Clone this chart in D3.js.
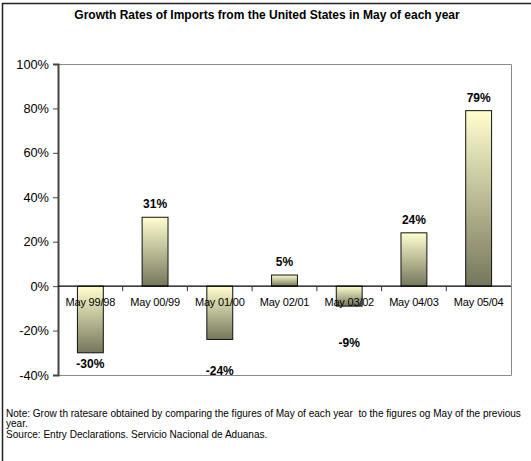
<!DOCTYPE html>
<html><head><meta charset="utf-8">
<script src="https://cdn.jsdelivr.net/npm/d3@7"></script>
<style>body{margin:0;background:#fff;font-family:"Liberation Sans",Arial,sans-serif}</style>
</head><body>
<svg id="c" width="531" height="461"></svg>
<script>
const categories = ["May 99/98","May 00/99","May 01/00","May 02/01","May 03/02","May 04/03","May 05/04"];
const values = [-30, 31, -24, 5, -9, 24, 79];
const yTicks = [-40, -20, 0, 20, 40, 60, 80, 100];
const title = "Growth Rates of Imports from the United States in May of each year";
const notes = ["Note: Grow th ratesare obtained by comparing the figures of May of each year  to the figures og May of the previous",
  "year.", "Source: Entry Declarations. Servicio Nacional de Aduanas."];
// layout: label offsets from bar end (px), as placed in the original
const labelDy = [15, -9, 36, -9, 41, -9, -9];

const svg = d3.select("#c");
svg.append("rect").attr("x",0).attr("y",0).attr("width",531).attr("height",461).attr("fill","#fff");
svg.append("path").attr("d","M2.5,461 V3.5 H531").attr("fill","none").attr("stroke","#222").attr("stroke-width",1.5);

const L=58, R=511, T=64, B=375;
const x = d3.scaleBand().domain(categories).range([L,R]).paddingInner(0.6).paddingOuter(0.3);
const y = d3.scaleLinear().domain([-40,100]).range([B,T]);

const defs = svg.append("defs");
const g = defs.append("linearGradient").attr("id","bg").attr("x1",0).attr("y1",0).attr("x2",0).attr("y2",1);
g.append("stop").attr("offset","0%").attr("stop-color","#ffffcf");
g.append("stop").attr("offset","100%").attr("stop-color","#76765c");

svg.append("path").attr("d",`M${L},${T+0.5} H${R+0.5} V${B+0.5} H${L}`).attr("fill","none").attr("stroke","#888").attr("stroke-width",1);

svg.selectAll("rect.bar").data(values).enter().append("rect").attr("class","bar")
  .attr("x",(d,i)=>x(categories[i]))
  .attr("width",x.bandwidth())
  .attr("y",d=>y(Math.max(0,d)))
  .attr("height",d=>Math.abs(y(d)-y(0)))
  .attr("fill","url(#bg)").attr("stroke","#111").attr("stroke-width",1);

const ya = svg.append("g").attr("transform",`translate(${L},0)`)
  .call(d3.axisLeft(y).tickValues(yTicks).tickFormat(d=>d+"%").tickSize(5).tickPadding(4));
ya.select(".domain").attr("stroke","#444").attr("stroke-width",2);
ya.selectAll(".tick line").attr("stroke","#444");
ya.selectAll("text").attr("font-size","12.8px").attr("fill","#000").attr("font-family","'Liberation Sans',Arial,sans-serif");

const step = x.step();
const xa = svg.append("g").attr("transform",`translate(0,${y(0)})`);
xa.append("line").attr("x1",L).attr("x2",R).attr("y1",0).attr("y2",0).attr("stroke","#000").attr("stroke-width",1.3);
xa.selectAll("line.t").data(d3.range(1,categories.length)).enter().append("line").attr("class","t")
  .attr("x1",i=>L+i*step).attr("x2",i=>L+i*step).attr("y1",0).attr("y2",5).attr("stroke","#333");
xa.selectAll("text").data(categories).enter().append("text")
  .attr("x",d=>x(d)+x.bandwidth()/2).attr("y",20).attr("text-anchor","middle")
  .attr("font-size","11px").attr("letter-spacing","-0.2px").text(d=>d);

svg.selectAll("text.v").data(values).enter().append("text").attr("class","v")
  .attr("x",(d,i)=>x(categories[i])+x.bandwidth()/2)
  .attr("y",(d,i)=>y(d)+labelDy[i])
  .attr("text-anchor","middle").attr("font-weight","bold").attr("font-size","12px")
  .text(d=>d+"%");

svg.append("text").attr("x",267).attr("y",19).attr("text-anchor","middle")
  .attr("font-weight","bold").attr("font-size","12px").text(title);

svg.selectAll("text.n").data(notes).enter().append("text").attr("class","n")
  .attr("x",6).attr("y",(d,i)=>416.5+i*10.5).attr("font-size","10.05px")
  .style("white-space","pre").text(d=>d);
</script>
</body></html>
